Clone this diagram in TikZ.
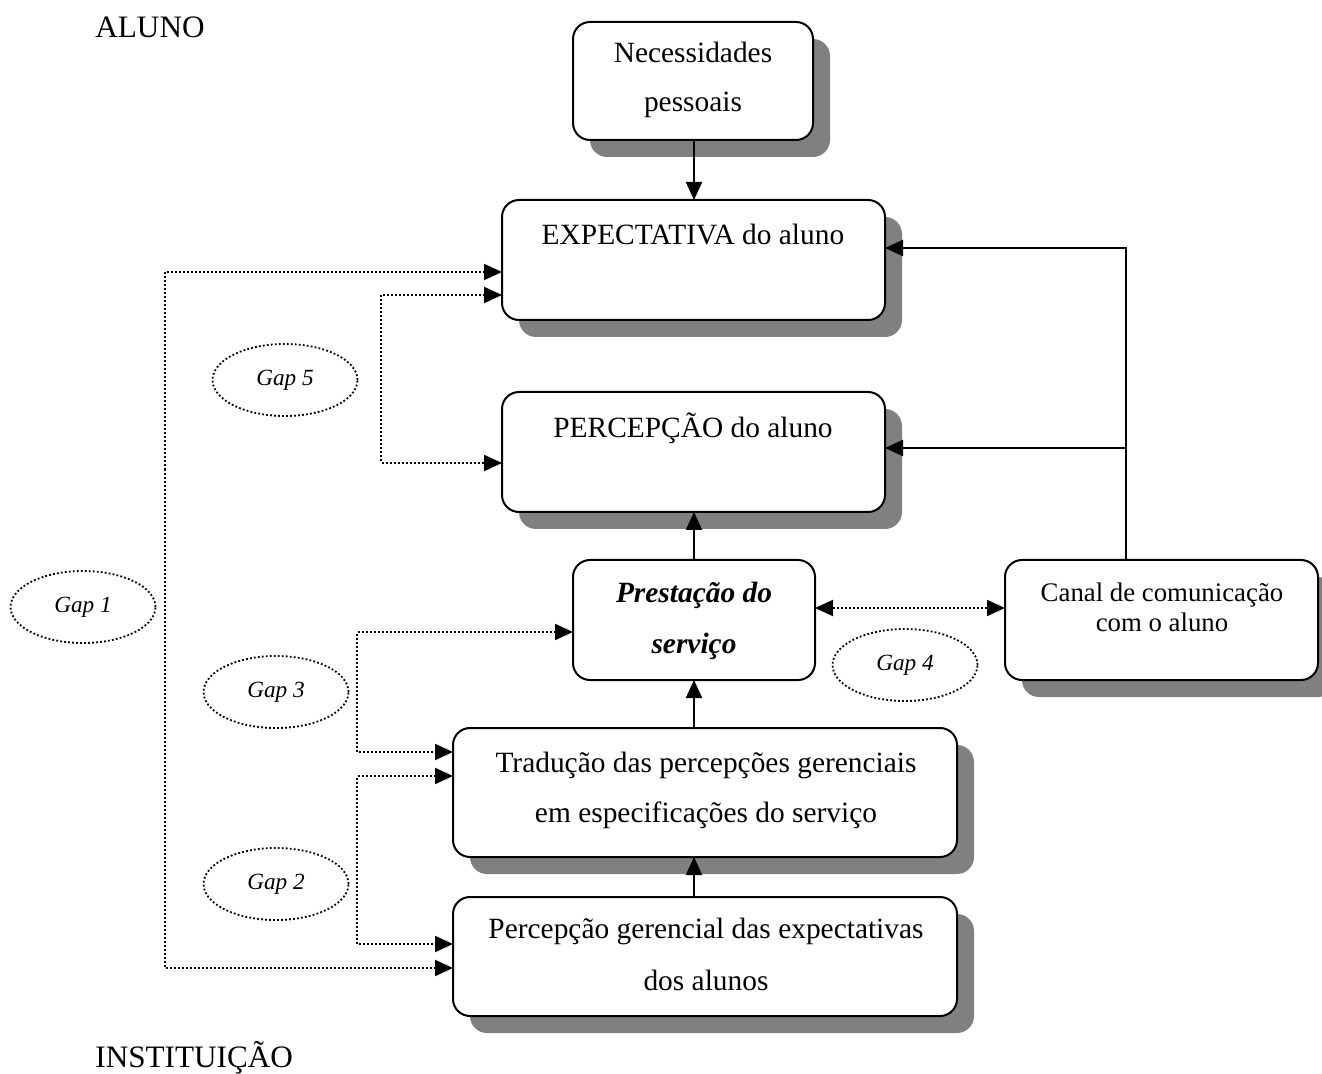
\documentclass[tikz,border=0pt]{standalone}
\usepackage{fontspec}
\setmainfont{Liberation Serif}
\usetikzlibrary{arrows.meta,shadows,shapes.geometric}

\tikzset{
  box/.style={draw, line width=1pt, rounded corners=8.5pt, fill=white,
    inner sep=0pt, outer sep=0pt},
  shadowed/.style={drop shadow={shadow xshift=8.5pt, shadow yshift=-8.5pt,
    fill=black!50, opacity=1}},
  txt/.style={anchor=base, inner sep=0pt, font=\fontsize{14.7pt}{17pt}\selectfont},
  smalltxt/.style={anchor=base, inner sep=0pt, font=\fontsize{13.4pt}{16pt}\selectfont},
  side/.style={anchor=base west, inner sep=0pt, font=\fontsize{15.6pt}{18pt}\selectfont},
  gapnode/.style={ellipse, draw, line width=0.9pt, dash pattern=on 0.9pt off 1.1pt,
    minimum width=72.5pt, minimum height=36pt, inner sep=0pt,
    font=\fontsize{11.6pt}{13pt}\selectfont\itshape},
  arr/.style={line width=1pt, -{Triangle[length=9pt,width=8pt]}},
  dotarr/.style={line width=1pt, dash pattern=on 1pt off 1pt,
    {Triangle[length=9pt,width=8pt]}-{Triangle[length=9pt,width=8pt]}},
}

\begin{document}
\begin{tikzpicture}[x=0.5pt, y=-0.5pt]
\useasboundingbox (0,0) rectangle (1322,1074);

% side labels
\node[side] (aluno) at (95,38) {ALUNO};
\node[side] (inst) at (95,1067) {INSTITUIÇÃO};

% boxes
\node[box, shadowed, minimum width=120pt, minimum height=59pt] (nec) at (693,81) {};
\node[box, shadowed, minimum width=191.5pt, minimum height=60pt] (exp) at (693.5,260) {};
\node[box, shadowed, minimum width=191.5pt, minimum height=60pt] (per) at (693.5,452) {};
\node[box, minimum width=121pt, minimum height=60pt] (pre) at (694,620) {};
\node[box, shadowed, minimum width=156.5pt, minimum height=60pt] (can) at (1161.5,620) {};
\node[box, shadowed, minimum width=252pt, minimum height=64.5pt] (tra) at (705,792.5) {};
\node[box, shadowed, minimum width=252pt, minimum height=59.5pt] (pge) at (705,956.5) {};

% box texts
\node[txt] (nec1) at (693,63) {Necessidades};
\node[txt] (nec2) at (693,112) {pessoais};
\node[txt] (exp1) at (693,245) {EXPECTATIVA do aluno};
\node[txt] (per1) at (693,438) {PERCEPÇÃO do aluno};
\node[txt, font=\fontsize{14.7pt}{17pt}\selectfont\bfseries\itshape] (pre1) at (694,603) {Prestação do};
\node[txt, font=\fontsize{14.7pt}{17pt}\selectfont\bfseries\itshape] (pre2) at (694,653) {serviço};
\node[smalltxt] (can1) at (1162,602) {Canal de comunicação};
\node[smalltxt] (can2) at (1162,632) {com o aluno};
\node[txt] (tra1) at (706,772) {Tradução das percepções gerenciais};
\node[txt] (tra2) at (706,822) {em especificações do serviço};
\node[txt] (pge1) at (706,938) {Percepção gerencial das expectativas};
\node[txt] (pge2) at (706,990) {dos alunos};

% gap ellipses
\node[gapnode] (g5) at (285,380) {Gap 5};
\node[gapnode] (g1) at (83,607) {Gap 1};
\node[gapnode] (g4) at (905,665) {Gap 4};
\node[gapnode] (g3) at (276,692) {Gap 3};
\node[gapnode] (g2) at (276,884) {Gap 2};

% solid flow arrows
\draw[arr] (nec.south -| pre.north) -- (exp.north -| pre.north);
\draw[arr] (pre.north) -- (per.south -| pre.north);
\draw[arr] (tra.north -| pre.south) -- (pre.south);
\draw[arr] (pge.north -| pre.south) -- (tra.south -| pre.south);

% feedback from the communication channel
\coordinate (cj) at (1126,248);
\coordinate (cp) at (1126,448);
\draw[arr] (can.north -| cj) -- (cj) -- (cj -| exp.east);
\draw[arr] (cp) -- (cp -| per.east);

% gap connectors
\draw[dotarr] ([yshift=6pt]pre.east) -- ([yshift=6pt]can.west);

\coordinate (g1t) at (165,272);
\coordinate (g1b) at (165,968);
\draw[dotarr] (g1t -| exp.west) -- (g1t) -- (g1b) -- (g1b -| pge.west);

\coordinate (g5t) at (381,295);
\coordinate (g5b) at (381,463);
\draw[dotarr] (g5t -| exp.west) -- (g5t) -- (g5b) -- (g5b -| per.west);

\coordinate (g3t) at (357,632);
\coordinate (g3b) at (357,752);
\draw[dotarr] (g3t -| pre.west) -- (g3t) -- (g3b) -- (g3b -| tra.west);

\coordinate (g2t) at (357,776);
\coordinate (g2b) at (357,944);
\draw[dotarr] (g2t -| tra.west) -- (g2t) -- (g2b) -- (g2b -| pge.west);
\end{tikzpicture}
\end{document}
